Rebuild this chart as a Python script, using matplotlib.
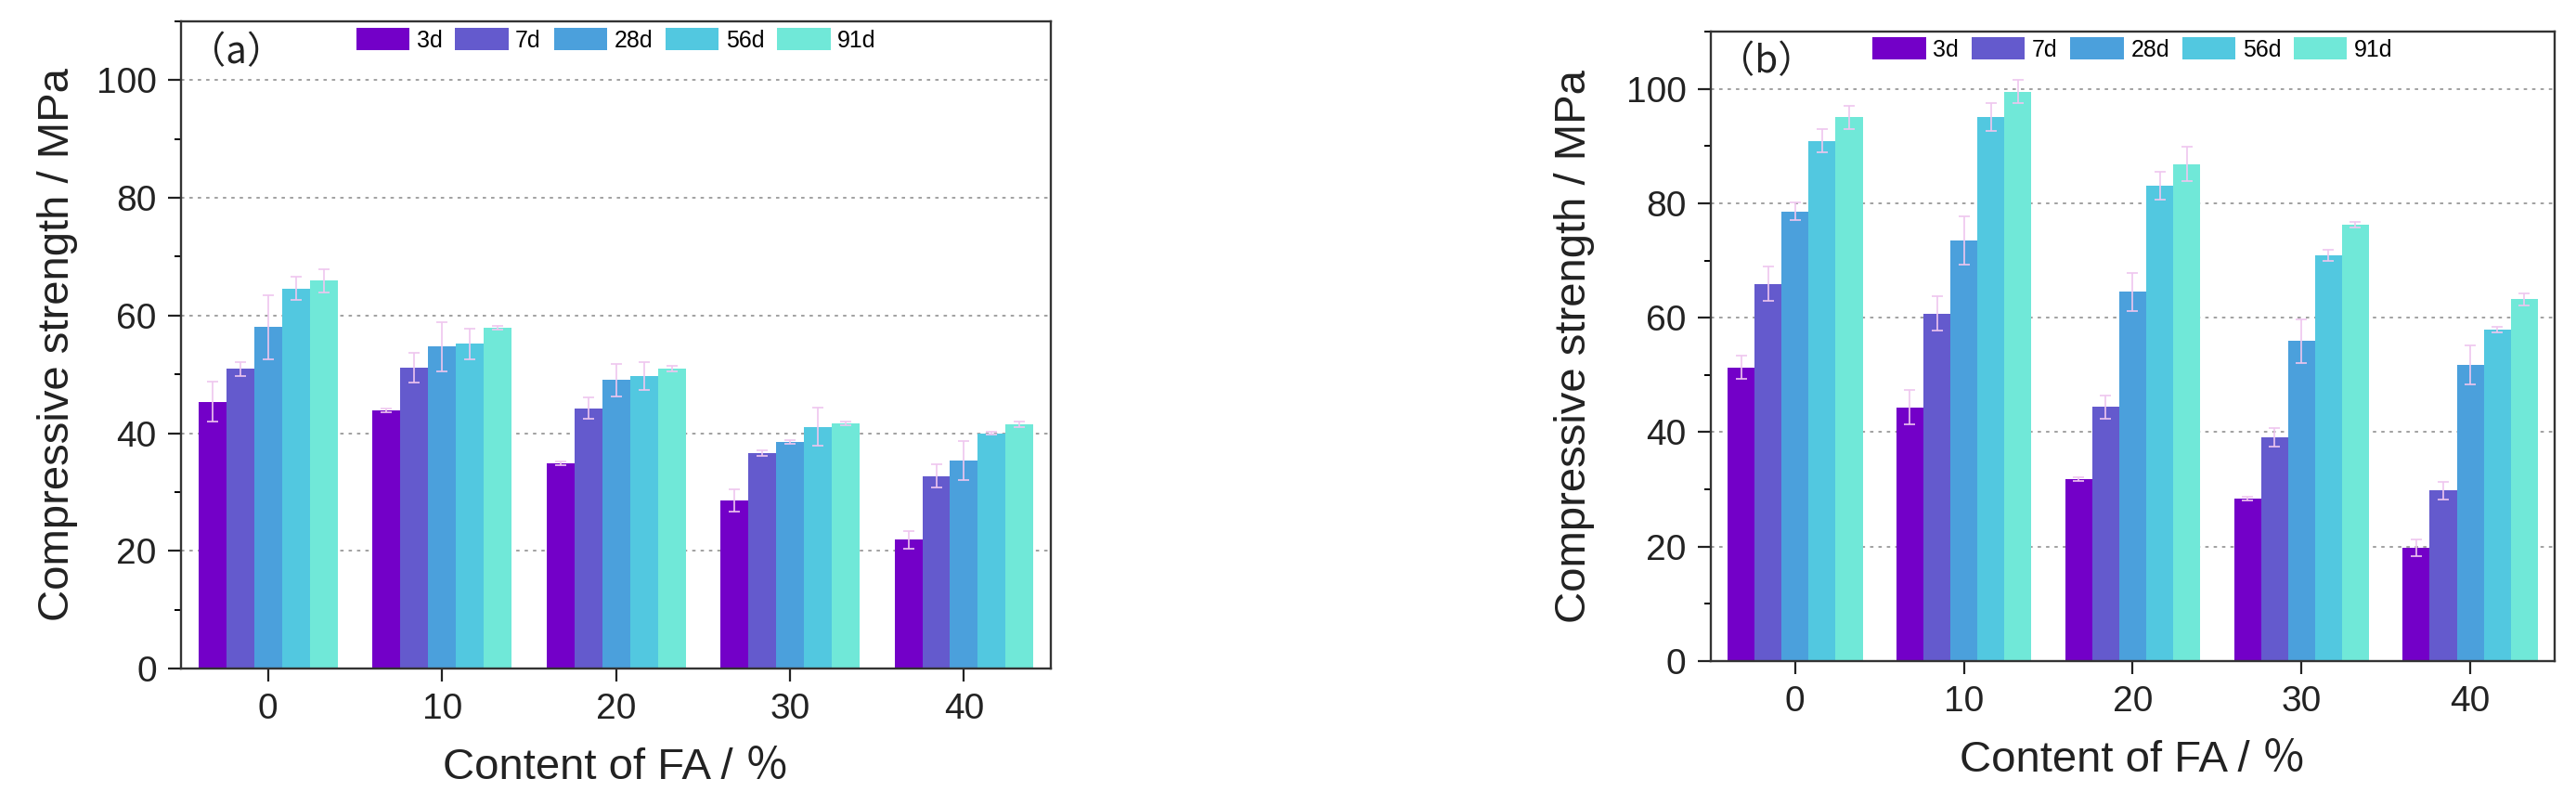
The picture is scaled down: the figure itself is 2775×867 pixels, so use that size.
import matplotlib
matplotlib.use('Agg')
import matplotlib.pyplot as plt
from matplotlib.ticker import MultipleLocator
import numpy as np

plt.rcParams['font.family'] = ['Liberation Sans', 'Noto Sans CJK SC', 'DejaVu Sans']

# FA content (%), curing ages
fa_content = [0, 10, 20, 30, 40]
ages = ['3d', '7d', '28d', '56d', '91d']
colors = ['#7300c8', '#645acd', '#4ba0dc', '#52c8e0', '#70e8d8']

# (a) compressive strength, MPa
a_3d = [45.3, 43.9, 34.9, 28.5, 21.9]
a_7d = [50.9, 51.1, 44.2, 36.6, 32.7]
a_28d = [58.0, 54.7, 49.0, 38.5, 35.4]
a_56d = [64.6, 55.2, 49.7, 41.1, 40.0]
a_91d = [65.9, 57.9, 51.0, 41.6, 41.5]
a_3d_err = [3.4, 0.3, 0.3, 1.9, 1.5]
a_7d_err = [1.2, 2.5, 1.8, 0.5, 2.0]
a_28d_err = [5.5, 4.2, 2.8, 0.3, 3.3]
a_56d_err = [2.0, 2.6, 2.4, 3.2, 0.3]
a_91d_err = [2.0, 0.3, 0.5, 0.3, 0.5]

# (b) compressive strength, MPa
b_3d = [51.3, 44.3, 31.8, 28.4, 19.8]
b_7d = [65.9, 60.7, 44.4, 39.1, 29.8]
b_28d = [78.6, 73.5, 64.5, 55.9, 51.7]
b_56d = [90.9, 95.1, 83.1, 70.9, 57.9]
b_91d = [95.0, 99.5, 86.8, 76.3, 63.2]
b_3d_err = [2.0, 3.0, 0.3, 0.3, 1.5]
b_7d_err = [3.0, 3.0, 2.0, 1.6, 1.5]
b_28d_err = [1.5, 4.2, 3.3, 3.8, 3.4]
b_56d_err = [2.0, 2.4, 2.4, 0.9, 0.5]
b_91d_err = [2.0, 2.0, 3.0, 0.5, 1.0]


def draw(ax, series, errs, tag, ylabelpad, leg_y):
    x = np.array(fa_content, dtype=float)
    w = 1.6
    for i in range(len(ages)):
        ax.bar(x + (i - 2) * w, series[i], width=w, color=colors[i],
               label=ages[i], zorder=2)
        ax.errorbar(x + (i - 2) * w, series[i], yerr=errs[i], fmt='none',
                    ecolor='#efc6ef', elinewidth=1.2, capsize=4,
                    capthick=1.2, zorder=3)
    ax.set_xlim(-5, 45)
    ax.set_ylim(0, 110)
    ax.set_xticks(fa_content)
    ax.set_xticklabels([str(v) for v in fa_content])
    ax.yaxis.set_major_locator(MultipleLocator(20))
    ax.yaxis.set_minor_locator(MultipleLocator(10))
    ax.set_yticks([0, 20, 40, 60, 80, 100])
    ax.tick_params(axis='both', which='major', direction='out', length=10,
                   width=1.6, labelsize=28, pad=9, colors='#222222')
    ax.tick_params(axis='y', which='minor', direction='out', length=5,
                   width=1.4)
    ax.tick_params(axis='x', which='minor', length=0)
    ax.tick_params(top=False, right=False)
    ax.yaxis.grid(True, which='major', linestyle=(0, (2, 3)),
                  color='#9a9a9a', linewidth=1.3)
    ax.set_axisbelow(True)
    for s in ax.spines.values():
        s.set_color('#333333')
        s.set_linewidth(1.7)
    ax.set_xlabel('Content of FA / ％', fontsize=34, labelpad=16,
                  color='#222222')
    ax.set_ylabel('Compressive strength / MPa', fontsize=34,
                  labelpad=ylabelpad, color='#222222')
    ax.text(0.008, 0.952, tag, transform=ax.transAxes, fontsize=29,
            va='center', ha='left', color='#222222',
            family=['Noto Sans CJK SC', 'DejaVu Sans'])
    ax.legend(loc='center', bbox_to_anchor=(0.5, leg_y), ncol=5,
              frameon=False, fontsize=18, handlelength=2.3,
              handleheight=1.1, handletextpad=0.3, columnspacing=0.55,
              borderpad=0, borderaxespad=0)


def main():
    fig = plt.figure(figsize=(27.75, 8.67), dpi=100)
    ax1 = fig.add_axes([0.0703, 0.1696, 0.3377, 0.8039])
    ax2 = fig.add_axes([0.6641, 0.1788, 0.3276, 0.7820])
    draw(ax1, [a_3d, a_7d, a_28d, a_56d, a_91d],
         [a_3d_err, a_7d_err, a_28d_err, a_56d_err, a_91d_err],
         '（a）', 14, 0.971)
    draw(ax2, [b_3d, b_7d, b_28d, b_56d, b_91d],
         [b_3d_err, b_7d_err, b_28d_err, b_56d_err, b_91d_err],
         '（b）', 24, 0.972)
    fig.savefig('out.png', dpi=100)


if __name__ == '__main__':
    main()
